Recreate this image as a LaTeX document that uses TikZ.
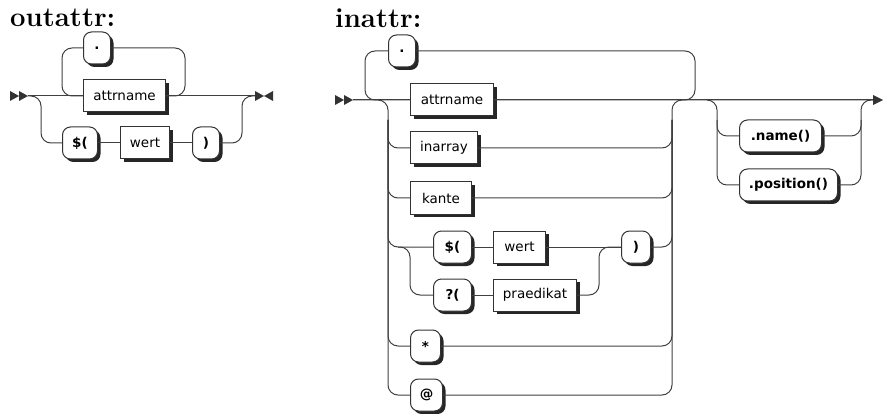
\documentclass[tikz,border=0pt]{standalone}
\usepackage{fontspec}
\setsansfont{DejaVu Sans}
\usetikzlibrary{shadows,calc}
\begin{document}
\begin{tikzpicture}[x=1pt,y=-1pt,
  conn/.style={draw=black!75,line width=1pt,rounded corners=10pt},
  nt/.style={draw=black!80,fill=white,line width=1pt,minimum height=32pt,inner sep=0pt,anchor=west,
    font=\sffamily\fontsize{13.5}{15}\selectfont,
    drop shadow={shadow xshift=3pt,shadow yshift=-3pt,opacity=1,fill=black!85}},
  tm/.style={nt,rounded corners=8pt,font=\sffamily\bfseries\fontsize{13.5}{15}\selectfont},
  tip/.style={fill=black!80},
  ttl/.style={anchor=base west,inner sep=0pt,font=\bfseries\fontsize{27.5}{28}\selectfont}]
\useasboundingbox (0,0) rectangle (883,414);

% ---------------- outattr ----------------
\node[ttl] (t1) at (10,27) {outattr:};
\coordinate (os) at (28,96);
\coordinate (oe) at (255,96);
\coordinate (oLx) at (62,0);
\coordinate (oRx) at (185,0);
\coordinate (obx) at (41,0);
\coordinate (orx) at (242,0);
\node[tm,minimum width=27] (odot) at (83,48) {.};
\node[nt,minimum width=82] (oattr) at (83,96) {attrname};
\node[tm,minimum width=35] (odollar) at (62,143) {\$(};
\node[nt,minimum width=49] (owert) at (120,143) {wert};
\node[tm,minimum width=27] (oclose) at (192,143) {)};

\draw[conn] (os) -- (oattr.west);
\draw[conn] (oattr.east) -- (oe);
\draw[conn] (odot.west) -| (oLx |- oattr.west) -- (oattr.west);
\draw[conn] (odot.east) -| (oRx |- oattr.east) -- (oattr.east);
\draw[conn] (os) -| (obx |- odollar.west) -- (odollar.west);
\draw[conn] (odollar.east) -- (owert.west);
\draw[conn] (owert.east) -- (oclose.west);
\draw[conn] (oclose.east) -| (orx |- oe) -- (oe);

\fill[tip] (os) ++(-18,-5) -- ++(9,5) -- ++(-9,5) -- cycle;
\fill[tip] (os) ++(-9,-5) -- ++(9,5) -- ++(-9,5) -- cycle;
\fill[tip] (oe) ++(0,-5) -- ++(9,5) -- ++(-9,5) -- cycle;
\fill[tip] (oe) ++(18,-5) -- ++(-9,5) -- ++(9,5) -- cycle;

% ---------------- inattr ----------------
\node[ttl] (t2) at (335,28) {inattr:};
\coordinate (is) at (353,100);
\coordinate (ie) at (873,100);
\coordinate (loopL) at (365,0);
\coordinate (chL) at (388,0);
\coordinate (subL) at (410,0);
\coordinate (subR) at (599,0);
\coordinate (chR) at (672,0);
\coordinate (loopR) at (695,0);
\coordinate (optL) at (717,0);
\coordinate (optR) at (861,0);

\node[tm,minimum width=27] (idot) at (388,51) {.};
\node[nt,minimum width=83] (iattr) at (410,100) {attrname};
\node[nt,minimum width=67] (iinarray) at (410,148) {inarray};
\node[nt,minimum width=61] (ikante) at (410,198) {kante};
\node[tm,minimum width=38] (idollar) at (433,247) {\$(};
\node[nt,minimum width=52] (iwert) at (493,247) {wert};
\node[tm,minimum width=29] (iclose) at (621,247) {)};
\node[tm,minimum width=38] (iq) at (433,295) {?(};
\node[nt,minimum width=83] (ipraed) at (493,295) {praedikat};
\node[tm,minimum width=30] (istar) at (410,346) {*};
\node[tm,minimum width=32] (iat) at (410,395) {@};
\node[tm,minimum width=82] (iname) at (739,136) {.name()};
\node[tm,minimum width=98] (ipos) at (739,185) {.position()};

\draw[conn] (is) -- (iattr.west);
\draw[conn] (iattr.east) -- (ie);
% loop with "."
\draw[conn] (idot.west) -| (loopL |- iattr.west) -- (iattr.west);
\draw[conn] (idot.east) -| (loopR |- iattr.east) -- (iattr.east);
% choice left
\draw[conn] (is) -| (chL |- iat.west) -- (iat.west);
\draw[conn] ($(chL |- is)+(0,20)$) |- (iinarray.west);
\draw[conn] ($(chL |- is)+(0,20)$) |- (ikante.west);
\draw[conn] ($(chL |- is)+(0,20)$) |- (idollar.west);
\draw[conn] ($(chL |- is)+(0,20)$) |- (istar.west);
% choice right
\draw[conn] (iat.east) -| (chR |- ie) -- (ie);
\draw[conn] (iinarray.east) -| ($(chR |- ie)+(0,20)$);
\draw[conn] (ikante.east) -| ($(chR |- ie)+(0,20)$);
\draw[conn] (iclose.east) -| ($(chR |- ie)+(0,20)$);
\draw[conn] (istar.east) -| ($(chR |- ie)+(0,20)$);
% sub choice
\draw[conn] ($(subL |- idollar.west)+(-12,0)$) -| (subL |- iq.west) -- (iq.west);
\draw[conn] (idollar.east) -- (iwert.west);
\draw[conn] (iwert.east) -- (iclose.west);
\draw[conn] (iq.east) -- (ipraed.west);
\draw[conn] (ipraed.east) -| (subR |- iclose.west) -- (iclose.west);
% optional suffix
\draw[conn] ($(optL |- ie)+(-10,0)$) -| (optL |- ipos.west) -- (ipos.west);
\draw[conn] ($(optL |- ie)+(0,20)$) |- (iname.west);
\draw[conn] (ipos.east) -| (optR |- ie) -- (ie);
\draw[conn] (iname.east) -| ($(optR |- ie)+(0,20)$);

\fill[tip] (is) ++(-18,-5) -- ++(9,5) -- ++(-9,5) -- cycle;
\fill[tip] (is) ++(-9,-5) -- ++(9,5) -- ++(-9,5) -- cycle;
\fill[tip] (ie) ++(0,-5) -- ++(10,5) -- ++(-10,5) -- cycle;
\end{tikzpicture}
\end{document}
